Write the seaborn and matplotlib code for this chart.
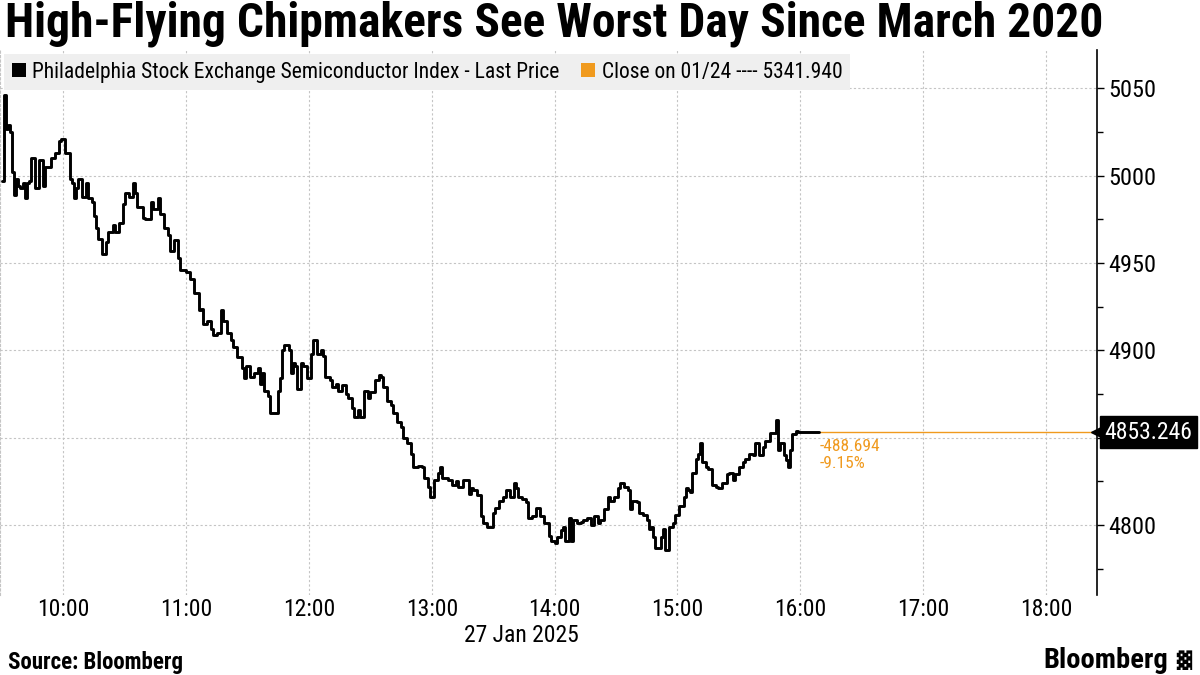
import pandas as pd
import numpy as np
import matplotlib
matplotlib.use('Agg')
import matplotlib.pyplot as plt
import matplotlib.dates as mdates
from matplotlib import font_manager
from matplotlib.patches import Patch
import seaborn as sns

# SOX intraday, 27 Jan 2025 -- minutes after the 09:30 open and last price
minutes = [
    0, 1, 2, 3, 4, 5, 6, 7, 8, 9, 10, 11, 12, 13, 14, 16, 18, 20, 21, 24, 26, 28, 29, 31,
    33, 34, 35, 36, 37, 39, 41, 42, 44, 45, 46, 47, 49, 51, 52, 54, 55, 57, 59, 60, 62, 64,
    65, 66, 69, 70, 73, 74, 76, 77, 79, 81, 82, 84, 86, 87, 90,
    92, 94, 96, 97, 98, 100, 102, 103, 105, 107, 108, 110, 112, 113, 115, 117, 118, 119,
    121, 123, 125, 126, 127, 128, 130, 131, 134, 135, 136, 137, 138, 140, 141, 142, 143,
    144, 146, 147, 149, 151, 152, 154, 156, 157, 158, 160, 161, 163, 164, 166, 168, 169,
    171, 172, 174, 175, 177, 179, 180, 182, 184, 185, 186, 188, 190, 191, 193, 195,
    196, 198, 200, 201, 203, 205, 206, 208, 209, 210, 211, 213, 214, 215, 217, 218, 220,
    222, 223, 225, 227, 228, 229, 230, 232, 234, 235, 237, 239, 240, 241, 243, 245, 246,
    248, 250, 251, 252, 254, 256, 257, 259, 261, 262, 263, 265, 267, 268, 270, 271, 273,
    274, 275, 277, 278, 279, 281, 283, 284, 286, 288, 289, 291, 292, 294, 296, 297, 299,
    301, 302, 304, 306, 307, 308, 310, 311, 313, 315, 316,
    317, 318, 319, 321, 322, 323, 324, 326, 328, 329, 331, 333, 334, 335, 336, 337, 339,
    340, 341, 342, 344, 345, 347, 349, 350, 352, 354, 355, 357, 358, 360, 362, 363, 365,
    367, 368, 370, 372, 373, 375, 377, 378, 379, 380, 382, 383, 384, 385, 386, 388, 389,
    390, 399,
]
price = [
    4997, 5046, 5027, 5029, 5025, 5002, 4989, 4998, 4994, 4993, 4996, 4987, 4996, 4997, 5010,
    4993, 5009, 4994, 5005, 5010, 5013, 5020, 5021, 5013,
    4998, 4996, 4987, 4993, 4998, 4988, 4996, 4987, 4985, 4977, 4970, 4964, 4955, 4962, 4968,
    4972, 4968, 4973, 4984, 4990, 4988, 4996, 4990, 4982, 4976, 4975, 4985, 4981, 4987, 4978,
    4970, 4966, 4957, 4963, 4953, 4946, 4945,
    4941, 4933, 4923, 4924, 4915, 4917, 4912, 4909, 4910, 4923, 4917, 4910, 4906, 4902, 4896,
    4890, 4884, 4891, 4885, 4887, 4890, 4881, 4887, 4877, 4874, 4864, 4864, 4877, 4884, 4900,
    4903, 4900, 4887, 4893, 4891, 4878, 4893, 4891, 4884, 4898, 4906, 4898, 4900, 4897, 4885,
    4883, 4879, 4881, 4877, 4880, 4875, 4873, 4867, 4862, 4866, 4862, 4877, 4873, 4876, 4883,
    4886, 4885, 4879, 4871, 4869, 4864, 4859, 4856,
    4850, 4847, 4841, 4833, 4834, 4833, 4827, 4822, 4816, 4816, 4826, 4830, 4833, 4827, 4827,
    4826, 4823, 4825, 4822, 4826, 4826, 4818, 4821, 4820, 4817, 4805, 4801, 4799, 4799, 4807,
    4810, 4814, 4816, 4820, 4816, 4824, 4821, 4816, 4815, 4813, 4804, 4805, 4810, 4810, 4805,
    4801, 4794, 4791, 4790, 4793, 4797, 4799, 4791, 4804, 4791, 4803, 4801, 4802, 4803, 4804,
    4800, 4805, 4801, 4803, 4809, 4816, 4814, 4816, 4821, 4824, 4822, 4820, 4809, 4814, 4813,
    4807, 4806, 4803, 4798,
    4799, 4793, 4787, 4787, 4793, 4798, 4786, 4799, 4801, 4806, 4811, 4816, 4821, 4820, 4819,
    4830, 4838, 4841, 4847, 4836, 4833, 4832, 4823, 4822, 4821, 4824, 4829, 4830, 4826, 4829,
    4833, 4836, 4838, 4841, 4840, 4847, 4840, 4845, 4848, 4853, 4853, 4860, 4843, 4847, 4840,
    4837, 4833, 4843, 4852, 4854, 4853.5, 4853.246, 4853.246,
]

last_price = 4853.246
prev_close = 5341.940
change = -488.694
change_pct = -9.15

y_ticks = [4800, 4850, 4900, 4950, 5000, 5050]
y_labels = ['4800', '', '4900', '4950', '5000', '5050']

title = 'High-Flying Chipmakers See Worst Day Since March 2020'
series_name = 'Philadelphia Stock Exchange Semiconductor Index - Last Price'
close_name = 'Close on 01/24 ---- 5341.940'

ORANGE = '#f09a1e'
GRID = '#c4c4c4'

# pick a narrow sans if one is around, Bloomberg charts use a condensed face
installed = {(f.name, f.stretch) for f in font_manager.fontManager.ttflist}
names = {n for n, _ in installed}
stretch = 'normal'
if 'Liberation Sans Narrow' in names:
    base_font = 'Liberation Sans Narrow'
elif 'Roboto Condensed' in names:
    base_font = 'Roboto Condensed'
elif ('DejaVu Sans', 'condensed') in installed or ('DejaVu Sans', 'semi-condensed') in installed:
    base_font = 'DejaVu Sans'
    stretch = 'condensed'
elif 'Roboto' in names:
    base_font = 'Roboto'
else:
    base_font = 'Liberation Sans'

sns.set_style('white')
plt.rcParams['font.family'] = [base_font, 'DejaVu Sans']
plt.rcParams['font.stretch'] = stretch
plt.rcParams['text.color'] = 'black'
plt.rcParams['xtick.color'] = 'black'
plt.rcParams['ytick.color'] = 'black'

open_time = pd.Timestamp('2025-01-27 09:30')
df = pd.DataFrame({
    'time': open_time + pd.to_timedelta(minutes, unit='min'),
    'price': price,
})

fig = plt.figure(figsize=(12, 6.75), dpi=100)
ax = fig.add_axes([0.0, 1 - 595 / 675, 1097 / 1200, 545 / 675])

sns.lineplot(data=df, x='time', y='price', ax=ax, color='black', linewidth=2.1,
             drawstyle='steps-post', legend=False, zorder=4)

x_left = pd.Timestamp('2025-01-27 09:29')
x_right = pd.Timestamp('2025-01-27 18:25')
ax.set_xlim(x_left, x_right)
ax.set_ylim(4760, 5072)

# last price line out to the axis
ax.hlines(last_price, df['time'].iloc[-1], x_right, color=ORANGE, linewidth=1.0, zorder=3)

ax.xaxis.set_major_locator(mdates.HourLocator())
ax.xaxis.set_major_formatter(mdates.DateFormatter('%H:%M'))
ax.tick_params(axis='x', length=0, pad=2, labelsize=17)

ax.yaxis.tick_right()
ax.set_yticks(y_ticks)
ax.set_yticklabels(y_labels)
ax.set_yticks([4775, 4825, 4875, 4925, 4975, 5025], minor=True)
ax.tick_params(axis='y', which='major', length=5, width=1, pad=3, labelsize=17.5)
ax.tick_params(axis='y', which='minor', length=4, width=1)
ax.set_xlabel('')
ax.set_ylabel('')

ax.grid(True, which='major', color=GRID, linestyle=(0, (2, 2)), linewidth=0.8)
for side in ['top', 'bottom']:
    ax.spines[side].set_visible(False)
ax.spines['left'].set_color(GRID)
ax.spines['left'].set_linestyle((0, (2, 2)))
ax.spines['left'].set_linewidth(0.8)
ax.spines['right'].set_color('black')
ax.spines['right'].set_linewidth(1.2)

# legend band
handles = [Patch(facecolor='black', edgecolor='none', label=series_name),
           Patch(facecolor=ORANGE, edgecolor='none', label=close_name)]
leg = ax.legend(handles=handles, loc='upper left', ncol=2, fontsize=15.5,
                frameon=True, fancybox=False, framealpha=1, facecolor='#efefef',
                edgecolor='none', handlelength=0.65, handleheight=0.65,
                handletextpad=0.3, columnspacing=1.0, borderpad=0.35,
                borderaxespad=0.2)
leg.set_zorder(5)

# change annotation and last price tag
ax.text(df['time'].iloc[-1] + pd.Timedelta(minutes=0.5), last_price - 4.0,
        f'{change:.3f}\n{change_pct:.2f}%', color=ORANGE, fontsize=12.5,
        va='top', ha='left', linespacing=1.15)
ax.plot([x_right], [last_price], marker='<', markersize=8, color='black',
        clip_on=False, zorder=6)
tag = ax.text(1.007, last_price, f'{last_price:.3f}',
              transform=ax.get_yaxis_transform(), ha='left', va='center',
              fontsize=17, color='white', clip_on=False, zorder=7,
              bbox=dict(boxstyle='square,pad=0.2', facecolor='black', edgecolor='black'))

fig.text(521 / 1200, 1 - 636 / 675, '27 Jan 2025', ha='center', va='center', fontsize=17)
ttl = fig.text(0.004, 1 - 24 / 675, title, ha='left', va='center', fontsize=30,
               fontweight='bold')
fig.text(8 / 1200, 1 - 662 / 675, 'Source: Bloomberg', ha='left', va='center',
         fontsize=16.5, fontweight='bold')
fig.text(1168 / 1200, 1 - 660 / 675, 'Bloomberg', ha='right', va='center',
         fontsize=20.5, fontweight='bold')
fig.text(1176 / 1200, 1 - 660 / 675, '\u2593', ha='left', va='center', fontsize=14,
         family='DejaVu Sans')

# fit the title and the price tag to the widths they take in the original
renderer = fig.canvas.get_renderer()
for artist, target in [(ttl, 1100), (tag, 88)]:
    w = artist.get_window_extent(renderer).width
    artist.set_fontsize(artist.get_fontsize() * target / w)

fig.savefig('out.png', dpi=100, facecolor='white')
